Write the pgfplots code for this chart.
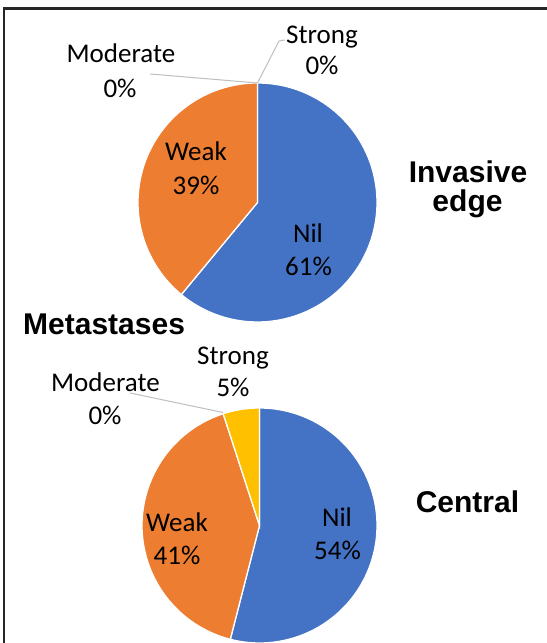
\documentclass[border=0pt]{standalone}
\usepackage{pgfplots}
\pgfplotsset{compat=1.18}
\usepackage{fontspec}
\setmainfont{Carlito}
\newfontfamily\headfont{Liberation Sans}[BoldFont={Liberation Sans Bold}]

\definecolor{nilblue}{HTML}{4472C4}
\definecolor{weakorange}{HTML}{ED7D31}
\definecolor{modgray}{HTML}{A5A5A5}
\definecolor{strongyellow}{HTML}{FFC000}
\definecolor{leader}{HTML}{BFBFBF}
\definecolor{frame}{HTML}{262626}

% Share of cases per staining intensity (percent)
% Invasive edge
\def\ieNil{61}\def\ieWeak{39}\def\ieMod{0}\def\ieStrong{0}
% Central
\def\ceNil{54}\def\ceWeak{41}\def\ceMod{0}\def\ceStrong{5}

\pgfplotsset{
  pie/.style={
    scale only axis, hide axis,
    xmin=-1, xmax=1, ymin=-1, ymax=1,
    anchor=center, clip=false,
  },
  slice/.style={draw=white, line width=1.3bp, data cs=polar, samples=150},
}

\tikzset{
  lab/.style={anchor=base, inner sep=0pt, font=\fontsize{27bp}{30bp}\selectfont, text=black},
  head/.style={anchor=base, inner sep=0pt, font=\headfont\bfseries\fontsize{30bp}{34bp}\selectfont},
}

\begin{document}
\begin{tikzpicture}[x=1bp, y=1bp]
\useasboundingbox (0,0) rectangle (547,643);
\fill[white] (0,0) rectangle (547,643);

% frame
\draw[frame, line width=2.4bp] (547,634.5) -- (4.2,634.5) -- (4.2,0);

% ---- Invasive edge ----
\begin{axis}[pie, width=239bp, height=239bp, at={(257.5bp,440.5bp)}]
  % slices run clockwise from 12 o'clock
  \addplot[slice, fill=nilblue, domain={90}:{90-3.6*\ieNil}] ({\x},{1}) -- (axis cs:0,0) -- cycle;
  \addplot[slice, fill=weakorange, domain={90-3.6*\ieNil}:{90-3.6*(\ieNil+\ieWeak)}] ({\x},{1}) -- (axis cs:0,0) -- cycle;
\end{axis}

% ---- Central ----
\begin{axis}[pie, width=235bp, height=235bp, at={(259.5bp,117.5bp)}]
  \addplot[slice, fill=nilblue, domain={90}:{90-3.6*\ceNil}] ({\x},{1}) -- (axis cs:0,0) -- cycle;
  \addplot[slice, fill=weakorange, domain={90-3.6*\ceNil}:{90-3.6*(\ceNil+\ceWeak)}] ({\x},{1}) -- (axis cs:0,0) -- cycle;
  \addplot[slice, fill=strongyellow, domain={90-3.6*(\ceNil+\ceWeak+\ceMod)}:{90-3.6*(\ceNil+\ceWeak+\ceMod+\ceStrong)}] ({\x},{1}) -- (axis cs:0,0) -- cycle;
\end{axis}

% leader lines
\draw[leader, line width=1bp] (150,569) -- (257.5,560);
\draw[leader, line width=1bp] (257.5,560) -- (279,602) -- (285,603);
\draw[leader, line width=1bp] (130,250) -- (223,230.5);

% data labels, invasive edge
\node[lab] at (121,580) {Moderate};
\node[lab] at (120,545) {0\%};
\node[lab] at (322,599) {Strong};
\node[lab] at (322,568) {0\%};
\node[lab] at (196,482) {Weak};
\node[lab] at (196,448) {39\%};
\node[lab] at (308,400) {Nil};
\node[lab] at (308.5,367) {61\%};

% data labels, central
\node[lab] at (233,278) {Strong};
\node[lab] at (233,246) {5\%};
\node[lab] at (105.5,251) {Moderate};
\node[lab] at (105,218) {0\%};
\node[lab] at (177,111) {Weak};
\node[lab] at (177,78) {41\%};
\node[lab] at (337,116) {Nil};
\node[lab] at (337.5,83) {54\%};

% panel titles
\node[head] at (468,460) {Invasive};
\node[head] at (467.5,431) {edge};
\node[head, anchor=base west] at (23,308) {Metastases};
\node[head] at (467.5,130) {Central};
\end{tikzpicture}
\end{document}
